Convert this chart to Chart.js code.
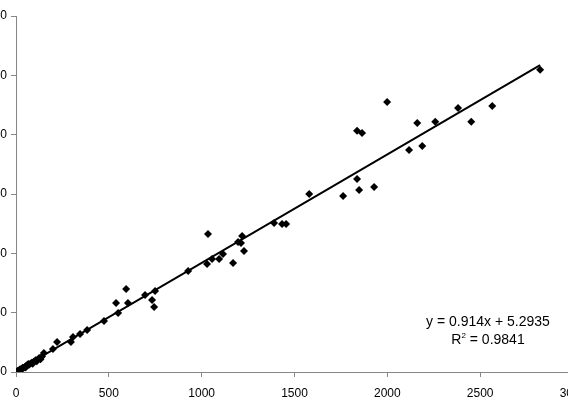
<!DOCTYPE html>
<html>
<head>
<meta charset="utf-8">
<script src="https://cdn.jsdelivr.net/npm/chart.js@4"></script>
<style>
  html, body { margin: 0; padding: 0; background: #fff; overflow: hidden; }
  body { width: 568px; height: 401px; position: relative; }
  #wrap { position: absolute; left: -40px; top: 0; width: 640px; height: 401px; }
  #eq {
    position: absolute; left: 408px; top: 312px; width: 160px;
    text-align: center; font-family: "Liberation Sans", Arial, sans-serif;
    font-size: 14px; line-height: 18px; color: #000;
  }
  #eq sup { font-size: 8px; line-height: 0; vertical-align: 6px; }
</style>
</head>
<body>
<div id="wrap"><canvas id="scatter"></canvas></div>
<div id="eq">y = 0.914x + 5.2935<br>R<sup>2</sup> = 0.9841</div>
<script>
// observed (x) vs predicted (y) values
let X_VALUES = [
    3, 8, 12, 18, 22, 25, 32, 36, 40, 48, 52, 55, 62, 66, 70, 78, 85, 90, 95, 105, 112, 115,
    125, 132, 140, 150, 199, 221,
    296, 307, 345, 383, 474, 550, 539, 603, 593, 695, 733, 744, 749, 927, 1029, 1056, 1094,
    1115, 1169, 1034, 1196, 1212, 1218, 1228, 1390, 1433, 1455, 1579, 1762, 1837, 1848, 1929,
    1837, 1864, 1999, 2117, 2188, 2161, 2258, 2381, 2452, 2565, 2823
];
let Y_VALUES = [
    2, 8, 10, 15, 24, 20, 28, 36, 34, 43, 38, 52, 58, 68, 62, 72, 78, 70, 86, 98, 90, 104,
    118, 108, 130, 160, 194, 253,
    253, 295, 320, 354, 430, 497, 582, 582, 700, 649, 607, 548, 683, 851, 910, 953, 953,
    995, 919, 1163, 1096, 1087, 1146, 1020, 1256, 1248, 1248, 1501, 1484, 1627, 1534, 1560,
    2032, 2015, 2276, 1871, 1905, 2099, 2108, 2225, 2108, 2242, 2546
];
let TREND_SLOPE = 0.914;
let TREND_INTERCEPT = 5.2935;
let TICK_STEP = 500;
let AXIS_MAX = 3000;

const AXIS_COLOR = '#868686';

let points = X_VALUES.map((x, i) => ({ x: x, y: Y_VALUES[i] }));
let xEnd = Math.max(...X_VALUES);
let trend = [
    { x: 0, y: TREND_INTERCEPT },
    { x: xEnd, y: TREND_SLOPE * xEnd + TREND_INTERCEPT }
];

function axisOptions(pos) {
    return {
        type: 'linear',
        position: pos,
        min: 0,
        max: AXIS_MAX,
        ticks: {
            stepSize: TICK_STEP,
            color: '#000',
            padding: pos === 'bottom' ? 9 : 4,
            font: { family: 'Liberation Sans', size: 12 },
            callback: (v) => String(v)
        },
        grid: {
            drawOnChartArea: false,
            drawTicks: true,
            tickLength: 5,
            color: AXIS_COLOR
        },
        border: { color: AXIS_COLOR, width: 1 },
        afterFit: function (scale) {
            if (pos === 'bottom') scale.height = 29;
            else scale.width = 56;
        }
    };
}

new Chart(document.getElementById('scatter'), {
    type: 'scatter',
    data: {
        datasets: [
            {
                label: 'data',
                data: points,
                pointStyle: 'rectRot',
                pointRadius: 4,
                pointBackgroundColor: '#000',
                pointBorderColor: '#000',
                pointBorderWidth: 0
            },
            {
                label: 'trend',
                type: 'line',
                data: trend,
                borderColor: '#000',
                borderWidth: 2,
                pointRadius: 0,
                fill: false
            }
        ]
    },
    options: {
        responsive: true,
        maintainAspectRatio: false,
        animation: false,
        layout: { padding: { top: 16, right: 27, bottom: 0, left: 0 } },
        plugins: { legend: { display: false }, tooltip: { enabled: false } },
        scales: {
            x: axisOptions('bottom'),
            y: axisOptions('left')
        }
    }
});
</script>
</body>
</html>
